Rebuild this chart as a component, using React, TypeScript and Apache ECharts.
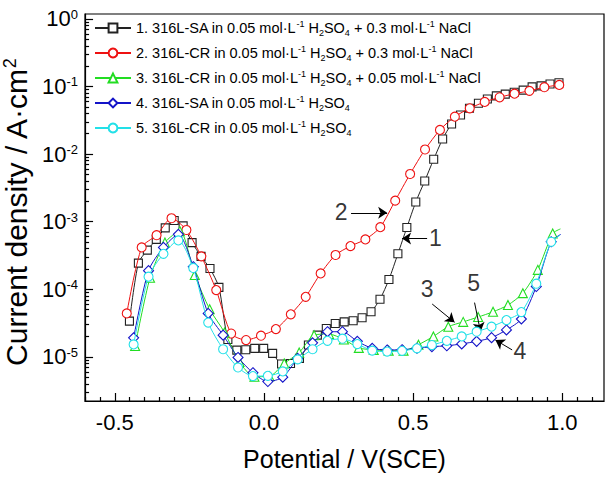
import React, { useEffect, useRef } from "react";
import * as echarts from "echarts";

const FONT = "'Liberation Sans', Arial, Helvetica, sans-serif";

// Series names (legend) and rich-text versions
const seriesNames = [
  "1. 316L-SA in 0.05 mol·L-1 H2SO4 + 0.3 mol·L-1 NaCl",
  "2. 316L-CR in 0.05 mol·L-1 H2SO4 + 0.3 mol·L-1 NaCl",
  "3. 316L-CR in 0.05 mol·L-1 H2SO4 + 0.05 mol·L-1 NaCl",
  "4. 316L-SA in 0.05 mol·L-1 H2SO4",
  "5. 316L-CR in 0.05 mol·L-1 H2SO4",
];
const seriesRich = [
  "1. 316L-SA in 0.05 mol·L{sup|-1} H{sub|2}SO{sub|4} + 0.3 mol·L{sup|-1} NaCl",
  "2. 316L-CR in 0.05 mol·L{sup|-1} H{sub|2}SO{sub|4} + 0.3 mol·L{sup|-1} NaCl",
  "3. 316L-CR in 0.05 mol·L{sup|-1} H{sub|2}SO{sub|4} + 0.05 mol·L{sup|-1} NaCl",
  "4. 316L-SA in 0.05 mol·L{sup|-1} H{sub|2}SO{sub|4}",
  "5. 316L-CR in 0.05 mol·L{sup|-1} H{sub|2}SO{sub|4}",
];
const seriesColors = ["#222222", "#ee1111", "#22dd22", "#1414c8", "#22e0e8"];
const seriesSymbols = ["rect", "circle", "triangle", "diamond", "circle"];
const seriesSymbolSizes = [8, 9, 9, 10, 9];

// Series 1: 316L-SA, 0.3 M NaCl
const s1Potential = [
  -0.451, -0.421, -0.391, -0.361, -0.331, -0.301, -0.271, -0.241, -0.211, -0.181,
  -0.151, -0.121, -0.091, -0.061, -0.031, -0.001, 0.029, 0.059, 0.089, 0.119,
  0.149, 0.179, 0.209, 0.239, 0.269, 0.299, 0.329, 0.359, 0.389, 0.419,
  0.449, 0.479, 0.509, 0.539, 0.569, 0.599, 0.629, 0.659, 0.689, 0.719,
  0.749, 0.779, 0.809, 0.839, 0.869, 0.899, 0.929, 0.959, 0.989,
];
const s1Current = [
  3.39e-5, 2.44e-4, 3.8e-4, 5.47e-4, 8.1e-4, 1.04e-3, 8.67e-4, 4.91e-4, 3.07e-4, 2.03e-4,
  1.07e-4, 1.81e-5, 1.26e-5, 1.28e-5, 1.34e-5, 1.34e-5, 1.13e-5, 7.85e-6, 8.0e-6, 9.52e-6,
  1.5e-5, 2.1e-5, 2.63e-5, 3.13e-5, 3.3e-5, 3.43e-5, 3.8e-5, 4.65e-5, 7.13e-5, 1.4e-4,
  3.35e-4, 8.2e-4, 1.96e-3, 4.0e-3, 8.37e-3, 1.67e-2, 2.79e-2, 3.79e-2, 4.76e-2, 5.64e-2,
  6.52e-2, 7.25e-2, 7.7e-2, 8.21e-2, 8.84e-2, 9.86e-2, 1.02e-1, 1.09e-1, 1.135e-1,
];

// Series 2: 316L-CR, 0.3 M NaCl
const s2Potential = [
  -0.46, -0.41, -0.36, -0.31, -0.26, -0.21, -0.16, -0.11, -0.06, -0.01,
  0.04, 0.09, 0.14, 0.19, 0.24, 0.29, 0.34, 0.39, 0.44, 0.49,
  0.54, 0.59, 0.64, 0.69, 0.74, 0.79, 0.84, 0.89, 0.94, 0.99,
];
const s2Current = [
  4.4e-5, 4.17e-4, 6.31e-4, 1.125e-3, 7.54e-4, 3.07e-4, 9.74e-5, 2.22e-5, 1.78e-5, 2.06e-5,
  2.58e-5, 4.27e-5, 7.74e-5, 1.72e-4, 3.22e-4, 4.36e-4, 5.47e-4, 8.3e-4, 2.05e-3, 5.08e-3,
  1.17e-2, 2.28e-2, 3.58e-2, 4.76e-2, 5.91e-2, 6.92e-2, 7.82e-2, 8.61e-2, 9.75e-2, 1.055e-1,
];

// Series 3: 316L-CR, 0.05 M NaCl (last point: curve end without marker)
const s3Potential = [
  -0.432, -0.382, -0.332, -0.282, -0.232, -0.182, -0.132, -0.082, -0.032, 0.018,
  0.068, 0.118, 0.168, 0.218, 0.268, 0.318, 0.368, 0.418, 0.468, 0.518,
  0.568, 0.618, 0.668, 0.718, 0.768, 0.818, 0.868, 0.918, 0.968, 0.994,
];
const s3Current = [
  1.45e-5, 1.48e-4, 4.91e-4, 7.26e-4, 1.63e-4, 5.08e-5, 2.3e-5, 8.4e-6, 5.1e-6, 5.17e-6,
  8.0e-6, 1.16e-5, 2.1e-5, 2.18e-5, 1.81e-5, 1.36e-5, 1.27e-5, 1.24e-5, 1.24e-5, 1.52e-5,
  2.01e-5, 2.8e-5, 3.3e-5, 3.89e-5, 4.65e-5, 5.85e-5, 8.78e-5, 1.94e-4, 6.69e-4, 7.82e-4,
];

// Series 4: 316L-SA, H2SO4 only
const s4Potential = [
  -0.437, -0.387, -0.337, -0.287, -0.237, -0.187, -0.137, -0.087, -0.037, 0.013,
  0.063, 0.113, 0.163, 0.213, 0.263, 0.313, 0.363, 0.413, 0.463, 0.513,
  0.563, 0.613, 0.663, 0.713, 0.763, 0.813, 0.863, 0.913, 0.963, 0.995,
];
const s4Current = [
  1.92e-5, 1.89e-4, 4.17e-4, 6.5e-4, 2.16e-4, 4.4e-5, 2.1e-5, 9.84e-6, 5.84e-6, 4.32e-6,
  5.02e-6, 9.52e-6, 1.62e-5, 2.36e-5, 2.36e-5, 1.7e-5, 1.34e-5, 1.27e-5, 1.28e-5, 1.34e-5,
  1.42e-5, 1.46e-5, 1.56e-5, 1.7e-5, 1.93e-5, 2.51e-5, 3.64e-5, 1.1e-4, 5.05e-4, 6.5e-4,
];

// Series 5: 316L-CR, H2SO4 only
const s5Potential = [
  -0.437, -0.387, -0.337, -0.287, -0.237, -0.187, -0.137, -0.087, -0.037, 0.013,
  0.063, 0.113, 0.163, 0.213, 0.263, 0.313, 0.363, 0.413, 0.463, 0.513,
  0.563, 0.613, 0.663, 0.713, 0.763, 0.813, 0.863, 0.913, 0.963, 0.993,
];
const s5Current = [
  1.53e-5, 1.54e-4, 3.35e-4, 5.29e-4, 2.07e-4, 3.22e-5, 1.3e-5, 6.98e-6, 5.21e-6, 5.25e-6,
  6.11e-6, 9.2e-6, 1.3e-5, 1.73e-5, 1.86e-5, 1.55e-5, 1.24e-5, 1.2e-5, 1.23e-5, 1.34e-5,
  1.5e-5, 1.73e-5, 2.01e-5, 2.36e-5, 2.8e-5, 3.51e-5, 4.61e-5, 1.21e-4, 5.05e-4, 6.31e-4,
];

const seriesPotentials = [s1Potential, s2Potential, s3Potential, s4Potential, s5Potential];
const seriesCurrents = [s1Current, s2Current, s3Current, s4Current, s5Current];
// series whose last point is a curve end without marker
const endWithoutMarker = [false, false, true, true, true];

// Axis ranges and ticks
const xMin = -0.6;
const xMax = 1.14;
const yMin = 2.23e-6;
const yMax = 1.18;
const xMajorTicks = [-0.5, 0.0, 0.5, 1.0];
const yMajorTicks = [1e-5, 1e-4, 1e-3, 1e-2, 1e-1, 1];

// Curve annotations: label text, label position, arrow start, arrow end
const annotLabels = ["2", "1", "3", "5", "4"];
const annotLabelPos = [
  [0.259, 1.395e-3],
  [0.575, 5.75e-4],
  [0.547, 1.0e-4],
  [0.703, 1.25e-4],
  [0.858, 1.24e-5],
];
const annotArrowFrom = [
  [0.292, 1.356e-3],
  [0.547, 5.66e-4],
  [0.564, 6.06e-5],
  [0.706, 6.36e-5],
  [0.832, 1.27e-5],
];
const annotArrowTo = [
  [0.413, 1.356e-3],
  [0.463, 5.66e-4],
  [0.639, 3.25e-5],
  [0.726, 2.36e-5],
  [0.776, 1.78e-5],
];

// Layout of the plot frame (pixels)
const GRID = { left: 85, right: 6, top: 14, bottom: 79 };
const CHART_W = 610;
const CHART_H = 480;

function minorXTicks(): number[] {
  const out: number[] = [];
  for (let i = Math.round(xMin / 0.05); i * 0.05 <= xMax + 1e-9; i++) {
    const v = Math.round(i * 5) / 100;
    if (!xMajorTicks.some((m) => Math.abs(m - v) < 1e-9)) out.push(v);
  }
  return out;
}
function minorYTicks(): number[] {
  const out: number[] = [];
  for (let e = -6; e < 1; e++) {
    for (let m = 2; m <= 9; m++) {
      const v = m * Math.pow(10, e);
      if (v > yMin && v < yMax) out.push(v);
    }
  }
  return out;
}

// inward tick segments expressed in axis (data) space, so the axes place them
function tickSegments() {
  const plotW = CHART_W - GRID.left - GRID.right;
  const plotH = CHART_H - GRID.top - GRID.bottom;
  const decadesPerPx = Math.log10(yMax / yMin) / plotH;
  const xPerPx = (xMax - xMin) / plotW;
  const yBase = yMin * 1.0005;
  const xBase = xMin + 0.0002;
  const segs: any[] = [];
  const xTick = (v: number, len: number) =>
    segs.push([{ coord: [v, yBase] }, { coord: [v, yBase * Math.pow(10, len * decadesPerPx)] }]);
  const yTick = (v: number, len: number) =>
    segs.push([{ coord: [xBase, v] }, { coord: [xBase + len * xPerPx, v] }]);
  xMajorTicks.forEach((v) => xTick(v, 8));
  minorXTicks().forEach((v) => xTick(v, 4));
  yMajorTicks.forEach((v) => yTick(v, 8));
  minorYTicks().forEach((v) => yTick(v, 4));
  return segs;
}

function buildOption() {
  const dataSeries = seriesNames.map((name, i) => {
    const xs = seriesPotentials[i];
    const ys = seriesCurrents[i];
    const data = xs.map((x, j) => {
      if (endWithoutMarker[i] && j === xs.length - 1) {
        return { value: [x, ys[j]], symbol: "none" };
      }
      return [x, ys[j]];
    });
    return {
      name,
      type: "line",
      data,
      smooth: 0.25,
      symbol: seriesSymbols[i],
      symbolSize: seriesSymbolSizes[i],
      showAllSymbol: true,
      lineStyle: { color: seriesColors[i], width: 1 },
      itemStyle: { color: "#ffffff", borderColor: seriesColors[i], borderWidth: 1.1 },
      emphasis: { disabled: true },
      z: 2 + i,
    };
  });

  const annotSeries = {
    name: "annotations",
    type: "scatter",
    symbol: "circle",
    symbolSize: 1,
    itemStyle: { color: "rgba(0,0,0,0)" },
    data: annotLabels.map((t, i) => [annotLabelPos[i][0], annotLabelPos[i][1], t]),
    label: {
      show: true,
      position: "inside",
      formatter: (p: any) => p.data[2],
      fontSize: 23,
      color: "#000",
      fontFamily: FONT,
    },
    markLine: {
      silent: true,
      symbol: ["none", "arrow"],
      symbolSize: 9,
      label: { show: false },
      lineStyle: { color: "#000", width: 1, type: "solid" },
      data: annotLabels.map((_, i) => [
        { coord: annotArrowFrom[i] },
        { coord: annotArrowTo[i] },
      ]),
    },
    z: 10,
  };

  const tickHolder = {
    name: "ticks",
    type: "scatter",
    symbolSize: 0,
    itemStyle: { color: "rgba(0,0,0,0)" },
    data: [[0, 1e-3]],
    silent: true,
    markLine: {
      silent: true,
      animation: false,
      symbol: ["none", "none"],
      label: { show: false },
      lineStyle: { color: "#000", width: 1.2, type: "solid" },
      data: tickSegments(),
    },
    z: 20,
  };

  return {
    animation: false,
    backgroundColor: "#ffffff",
    textStyle: { fontFamily: FONT, color: "#000" },
    grid: {
      ...GRID,
      containLabel: false,
      outerBoundsMode: "none",
      show: true,
      borderColor: "#000",
      borderWidth: 1.2,
      backgroundColor: "transparent",
    },
    legend: {
      data: seriesNames,
      orient: "vertical",
      left: 94,
      top: 19,
      padding: 0,
      itemGap: 7,
      itemWidth: 36,
      itemHeight: 11,
      selectedMode: false,
      formatter: (name: string) => seriesRich[seriesNames.indexOf(name)],
      textStyle: {
        fontFamily: FONT,
        fontSize: 14.5,
        color: "#000",
        lineHeight: 18,
        rich: {
          sup: { fontSize: 9, lineHeight: 10, verticalAlign: "top", fontFamily: FONT, color: "#000" },
          sub: { fontSize: 9, lineHeight: 10, verticalAlign: "bottom", fontFamily: FONT, color: "#000" },
        },
      },
    },
    xAxis: {
      type: "value",
      min: xMin,
      max: xMax,
      position: "bottom",
      axisLine: { show: true, onZero: false, lineStyle: { color: "#000", width: 1.2 } },
      axisTick: { show: false },
      axisLabel: {
        show: true,
        customValues: xMajorTicks,
        formatter: (v: number) => v.toFixed(1),
        fontSize: 22,
        color: "#000",
        fontFamily: FONT,
        margin: 10,
      },
      splitLine: { show: false },
      name: "Potential / V(SCE)",
      nameLocation: "middle",
      nameGap: 45,
      nameTextStyle: { fontSize: 25, color: "#000", fontFamily: FONT },
    },
    yAxis: {
      type: "log",
      logBase: 10,
      min: yMin,
      max: yMax,
      position: "left",
      axisLine: { show: true, onZero: false, lineStyle: { color: "#000", width: 1.2 } },
      axisTick: { show: false },
      axisLabel: {
        show: true,
        customValues: yMajorTicks,
        formatter: (v: number) => `10{sup|${Math.round(Math.log10(v))}}`,
        fontSize: 22,
        color: "#000",
        fontFamily: FONT,
        margin: 7,
        rich: {
          sup: { fontSize: 13, lineHeight: 14, verticalAlign: "top", fontFamily: FONT, color: "#000" },
        },
      },
      splitLine: { show: false },
      minorTick: { show: false },
      name: "Current density / A·cm{sup|2}",
      nameLocation: "middle",
      nameGap: 43,
      nameTextStyle: {
        fontSize: 30,
        color: "#000",
        fontFamily: FONT,
        padding: [0, 10, 0, 0],
        rich: {
          sup: { fontSize: 18, lineHeight: 18, verticalAlign: "top", fontFamily: FONT, color: "#000" },
        },
      },
    },
    series: [...dataSeries, annotSeries, tickHolder],
  };
}

export default function App() {
  const ref = useRef<HTMLDivElement>(null);
  useEffect(() => {
    if (!ref.current) return;
    const chart = echarts.init(ref.current, undefined, { renderer: "svg" });
    chart.setOption(buildOption() as any);
    return () => chart.dispose();
  }, []);
  return (
    <div
      ref={ref}
      style={{ position: "fixed", left: 0, top: 0, width: CHART_W, height: CHART_H, background: "#fff" }}
    />
  );
}
